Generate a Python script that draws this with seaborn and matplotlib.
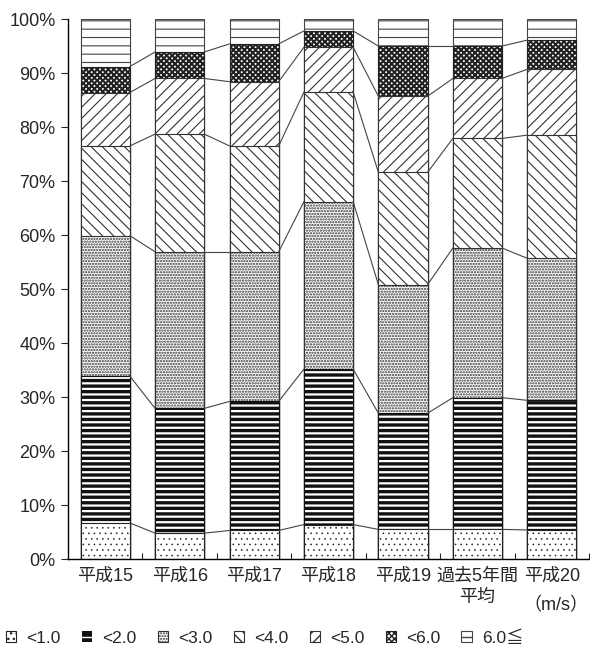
import numpy as np
import matplotlib
matplotlib.use("Agg")
import matplotlib.pyplot as plt
import seaborn as sns
from matplotlib.patches import Patch

# =========================
# DADES (percentatges per classe de velocitat del vent)
# =========================
categories = ["平成15", "平成16", "平成17", "平成18", "平成19", "過去5年間\n平均", "平成20"]
series_labels = ["<1.0", "<2.0", "<3.0", "<4.0", "<5.0", "<6.0", "6.0≦"]

v_lt1 = [6.7, 4.8, 5.3, 6.4, 5.5, 5.5, 5.4]
v_lt2 = [27.2, 23.1, 23.9, 28.8, 21.5, 24.4, 24.0]
v_lt3 = [26.0, 29.0, 27.7, 31.0, 23.8, 27.7, 26.3]
v_lt4 = [16.6, 21.8, 19.6, 20.3, 20.8, 20.3, 22.8]
v_lt5 = [9.9, 10.3, 11.9, 8.3, 14.1, 11.1, 12.2]
v_lt6 = [4.8, 4.9, 7.0, 3.0, 9.3, 6.0, 5.4]
v_ge6 = [8.8, 6.1, 4.6, 2.2, 5.0, 5.0, 3.9]

series = [v_lt1, v_lt2, v_lt3, v_lt4, v_lt5, v_lt6, v_ge6]

# estil de cada sèrie: (color de fons, color de la trama, trama, gruix de la trama)
styles = [
    ("white", "#222222", "...", 0.4),
    ("white", "#111111", "---", 2.4),
    ("white", "#333333", "......", 1.1),
    ("white", "#333333", "\\\\\\", 0.8),
    ("white", "#333333", "///", 0.8),
    ("white", "#222222", "xxxxxx", 1.5),
    ("white", "#444444", "--", 0.8),
]

sns.set_style("ticks")
plt.rcParams['font.family'] = ['Liberation Sans', 'Noto Sans CJK JP', 'DejaVu Sans']
plt.rcParams['font.size'] = 13

fig = plt.figure(figsize=(5.9, 6.57), dpi=100)
ax = fig.add_axes([0.1153, 0.149, 0.8831, 0.822])

cum = np.cumsum(np.array(series), axis=0)
bar_w = 0.66

# barres apilades: de la més alta a la més baixa, cadascuna tapa l'anterior
for k in range(len(series) - 1, -1, -1):
    face, hcol, hatch, hlw = styles[k]
    with plt.rc_context({'hatch.linewidth': hlw}):
        sns.barplot(x=categories, y=cum[k], color=face, saturation=1,
                    edgecolor=hcol, hatch=hatch, linewidth=0.8,
                    width=bar_w, ax=ax)
    for p in ax.patches[-len(categories):]:
        if hasattr(p, "set_hatch_linewidth"):
            p.set_hatch_linewidth(hlw)

# línies que uneixen els límits entre barres
for k in range(len(series) - 1):
    for i in range(len(categories) - 1):
        ax.plot([i + bar_w / 2, i + 1 - bar_w / 2], [cum[k][i], cum[k][i + 1]],
                color="#444444", lw=0.8, zorder=3)

ax.set_xlim(-0.5, len(categories) - 0.5)
ax.set_ylim(0, 100)
ax.set_yticks(range(0, 101, 10))
ax.set_yticklabels([f"{v}%" for v in range(0, 101, 10)])
ax.set_xticks(np.arange(len(categories)) + 0.5, minor=True)
ax.tick_params(axis='x', which='major', length=0, pad=6)
ax.tick_params(axis='x', which='minor', direction='in', length=4, width=0.8)
ax.tick_params(axis='y', direction='out', length=5, width=0.8, pad=4)
for lab in ax.get_xticklabels():
    lab.set_linespacing(1.35)
ax.set_xlabel("")
ax.set_ylabel("")
for s in ['top', 'right']:
    ax.spines[s].set_visible(False)
for s in ['left', 'bottom']:
    ax.spines[s].set_linewidth(1.0)
    ax.spines[s].set_color("black")

fig.text(0.998, 1 - 606 / 657, "（m/s）", ha="right", va="center", fontsize=13)

# llegenda (el quadre de <2.0 és negre amb ratlla blanca)
handles = []
for k in range(len(series)):
    face, hcol, hatch, hlw = styles[k]
    if k == 1:
        h = Patch(facecolor="#111111", edgecolor="white", hatch="--", linewidth=0.0)
        hlw = 1.6
    else:
        h = Patch(facecolor=face, edgecolor=hcol, hatch=hatch, linewidth=0.8)
    if hasattr(h, "set_hatch_linewidth"):
        h.set_hatch_linewidth(hlw)
    handles.append(h)
fig.legend(handles, series_labels, loc="center left", bbox_to_anchor=(-0.005, 1 - 638 / 657),
           ncol=7, frameon=False, handlelength=0.6, handleheight=0.6,
           handletextpad=0.6, columnspacing=1.2, fontsize=12.5, borderpad=0)

fig.savefig("out.png", dpi=100)
